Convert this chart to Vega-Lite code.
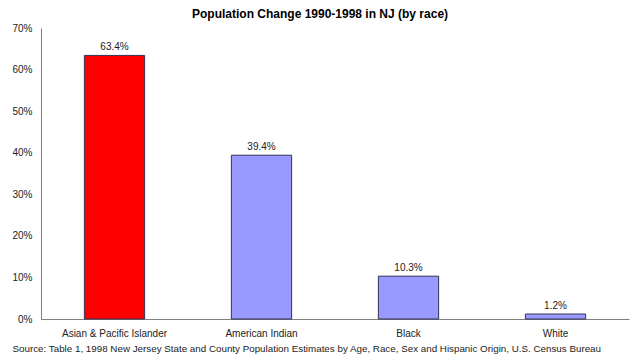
{
  "$schema": "https://vega.github.io/schema/vega-lite/v6.json",
  "width": 588,
  "height": 291,
  "autosize": "none",
  "padding": {"left": 41, "top": 28, "right": 11, "bottom": 43},
  "background": "white",
  "config": {
    "view": {"stroke": null},
    "font": "Liberation Sans"
  },
  "title": {
    "text": "Population Change 1990-1998 in NJ (by race)",
    "fontSize": 12,
    "fontWeight": "bold",
    "color": "black",
    "anchor": "middle",
    "dx": -15,
    "offset": 2,
    "font": "Liberation Sans"
  },
  "data": {
    "values": [
      {"race": "Asian & Pacific Islander", "change": 0.634, "highlight": "yes"},
      {"race": "American Indian", "change": 0.394, "highlight": "no"},
      {"race": "Black", "change": 0.103, "highlight": "no"},
      {"race": "White", "change": 0.012, "highlight": "no"}
    ]
  },
  "encoding": {
    "x": {
      "field": "race",
      "type": "nominal",
      "sort": null,
      "scale": {"paddingInner": 0.59, "paddingOuter": 0.295},
      "axis": {
        "title": "Source: Table 1, 1998 New Jersey State and County Population Estimates by Age, Race, Sex and Hispanic Origin, U.S. Census Bureau",
        "titleFontSize": 9.8,
        "titleFontWeight": "normal",
        "titleColor": "#222222",
        "titleX": -29,
        "titleY": 29,
        "titleAlign": "left",
        "titleAnchor": "start",
        "titleBaseline": "middle",
        "labelAngle": 0,
        "labelFontSize": 10,
        "labelColor": "#222222",
        "labelPadding": 9,
        "ticks": false,
        "domainColor": "#808080",
        "domainWidth": 1
      }
    },
    "y": {
      "field": "change",
      "type": "quantitative",
      "scale": {"domain": [0, 0.7], "nice": false},
      "axis": {
        "title": null,
        "format": ".0%",
        "values": [0, 0.1, 0.2, 0.3, 0.4, 0.5, 0.6, 0.7],
        "grid": false,
        "ticks": false,
        "labelPadding": 9,
        "labelFontSize": 10,
        "labelColor": "#222222",
        "domainColor": "#808080",
        "domainWidth": 1
      }
    }
  },
  "layer": [
    {
      "mark": {"type": "bar", "stroke": "#333355", "strokeWidth": 1},
      "encoding": {
        "color": {
          "field": "highlight",
          "type": "nominal",
          "scale": {"domain": ["yes", "no"], "range": ["#FF0000", "#9999FF"]},
          "legend": null
        }
      }
    },
    {
      "mark": {"type": "text", "baseline": "bottom", "dy": -3, "fontSize": 10, "color": "#222222"},
      "encoding": {
        "text": {"field": "change", "type": "quantitative", "format": ".1%"}
      }
    }
  ]
}
